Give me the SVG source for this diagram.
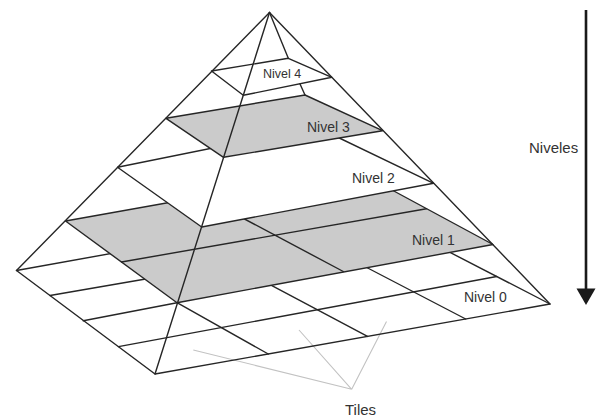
<svg xmlns="http://www.w3.org/2000/svg" width="598" height="418" viewBox="0 0 598 418">
  <defs>
    <style>
      .ln { stroke: #262626; stroke-width: 1.4; fill: none; stroke-linecap: round; stroke-linejoin: round; }
      .plane-w { fill: #ffffff; stroke: #262626; stroke-width: 1.4; stroke-linejoin: round; }
      .plane-g { fill: #cbcbcb; stroke: #262626; stroke-width: 1.4; stroke-linejoin: round; }
      .callout { stroke: #c2c2c2; stroke-width: 1.1; fill: none; }
      .lbl { font-family: "Liberation Sans", Arial, sans-serif; font-size: 14px; fill: #333333; }
    </style>
  </defs>
  <rect width="598" height="418" fill="#ffffff"/>

  <!-- Tiles callout lines -->
  <g id="tiles-callout">
    <path class="callout" d="M351.7,389.3 L193.3,350 M351.7,389.3 L299,330 M351.7,389.3 L386.5,321.5"/>
  </g>

  <!-- Level 0: 4x4 tiles -->
  <g id="nivel0">
    <polygon class="ln" points="16.5,270.5 364,208 550,304 155,374"/>
    <path class="ln" d="M50,295.5 L250,261 M83.3,320.8 L177,302.7 M118.5,346.6 L496.7,276.5"/>
    <path class="ln" d="M177,302.7 L268.3,354 M262,280.4 L367.5,336.4 M360,264 L465.7,319"/>
  </g>

  <!-- Level 1: 2x2 tiles -->
  <g id="nivel1">
    <polygon class="plane-g" points="65.5,221 354,169.5 493,244.5 177,302.7"/>
    <path class="ln" d="M121.5,262 L426.5,208.7 M202.4,196.6 L343.3,271.5"/>
  </g>

  <!-- Level 2 -->
  <g id="nivel2">
    <polygon class="plane-w" points="117.5,167.3 316.4,127 433.6,183.3 201.7,227"/>
  </g>

  <!-- Level 3 -->
  <g id="nivel3">
    <polygon class="plane-g" points="166,118.3 305,95 382.5,130.7 223.5,157.3"/>
  </g>

  <!-- Level 4 -->
  <g id="nivel4">
    <polygon class="plane-w" points="211.5,71 288.3,58.3 331.8,77.3 243.3,95.3"/>
  </g>

  <!-- Pyramid edges -->
  <g id="connectors">
    <path class="ln" d="M269.5,12.5 L16.5,270.5"/>
    <path class="ln" d="M269.5,12.5 L550,304"/>
    <path class="ln" d="M269.5,12.5 L155,374"/>
    <path class="ln" d="M269.5,12.5 L288.3,58.3"/>
    <path class="ln" d="M299.9,83.8 L305,95"/>
  </g>

  <!-- Labels -->
  <g id="labels">
    <text class="lbl" x="263" y="78" style="font-size:12.5px">Nivel 4</text>
    <text class="lbl" x="307" y="131.5">Nivel 3</text>
    <text class="lbl" x="352" y="183">Nivel 2</text>
    <text class="lbl" x="412" y="245">Nivel 1</text>
    <text class="lbl" x="464" y="302">Nivel 0</text>
    <text class="lbl" x="345" y="415" style="font-size:15px">Tiles</text>
  </g>

  <!-- Niveles arrow -->
  <g id="niveles">
    <line x1="586" y1="10" x2="586" y2="292" stroke="#1a1a1a" stroke-width="2.6"/>
    <polygon points="576.5,288.5 595.5,288.5 586,305" fill="#1a1a1a"/>
    <text class="lbl" x="529" y="153" style="font-size:15px">Niveles</text>
  </g>
</svg>
